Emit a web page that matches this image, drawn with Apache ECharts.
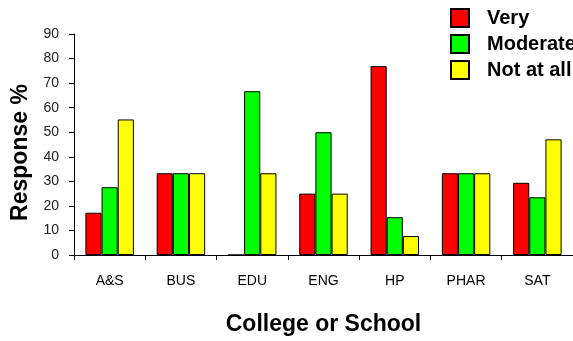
<!DOCTYPE html>
<html>
<head>
<meta charset="utf-8">
<script src="https://cdn.jsdelivr.net/npm/echarts@6/dist/echarts.min.js"></script>
<style>
html,body{margin:0;padding:0;background:#fff;}
#c{width:573px;height:341px;}
</style>
</head>
<body>
<div id="c"></div>
<script>
var categories = ['A&S', 'BUS', 'EDU', 'ENG', 'HP', 'PHAR', 'SAT'];
var seriesNames = ['Very', 'Moderate', 'Not at all'];
var veryValues = [17.2, 33.3, 0, 25, 76.9, 33.3, 29.4];
var moderateValues = [27.6, 33.3, 66.7, 50, 15.4, 33.3, 23.5];
var notAtAllValues = [55.2, 33.3, 33.3, 25, 7.7, 33.3, 47.1];
var seriesColors = ['#FF0000', '#00FF00', '#FFFF00'];

var FONT = '"Liberation Sans", Arial, sans-serif';
var chart = echarts.init(document.getElementById('c'), null, {renderer: 'canvas'});
var values = [veryValues, moderateValues, notAtAllValues];

chart.setOption({
  animation: false,
  backgroundColor: '#ffffff',
  textStyle: {fontFamily: FONT},
  legend: {
    orient: 'vertical',
    left: 450,
    top: 8,
    padding: 0,
    itemWidth: 18,
    itemHeight: 18,
    itemGap: 6,
    icon: 'rect',
    data: seriesNames,
    textStyle: {fontFamily: FONT, fontSize: 20, fontWeight: 'bold', color: '#000', padding: [0, 0, 0, 13]}
  },
  grid: {left: 74, top: 34, width: 502, bottom: 85, containLabel: false},
  xAxis: {
    type: 'category',
    data: categories,
    name: 'College or School',
    nameLocation: 'middle',
    nameGap: 58,
    nameTextStyle: {fontFamily: FONT, fontSize: 23, fontWeight: 'bold', color: '#000'},
    axisLine: {lineStyle: {color: '#000', width: 1}},
    axisTick: {show: true, length: 5, inside: false, lineStyle: {color: '#000'}},
    axisLabel: {margin: 19, fontFamily: FONT, fontSize: 14, color: '#000'},
    splitLine: {show: false}
  },
  yAxis: {
    type: 'value',
    min: 0,
    max: 90,
    interval: 10,
    name: 'Response %',
    nameLocation: 'middle',
    nameGap: 40,
    nameTextStyle: {fontFamily: FONT, fontSize: 23, fontWeight: 'bold', color: '#000', padding: [0, 16, 0, 0]},
    axisLine: {show: true, lineStyle: {color: '#000', width: 1}},
    axisTick: {show: true, length: 5, lineStyle: {color: '#000'}},
    axisLabel: {margin: 15, fontFamily: FONT, fontSize: 14, color: '#222'},
    splitLine: {show: false}
  },
  series: seriesNames.map(function (n, i) {
    return {
      name: n,
      type: 'bar',
      data: values[i],
      barGap: '0%',
      barCategoryGap: '32%',
      itemStyle: {color: seriesColors[i], borderColor: '#000', borderWidth: 1}
    };
  })
});
</script>
</body>
</html>
